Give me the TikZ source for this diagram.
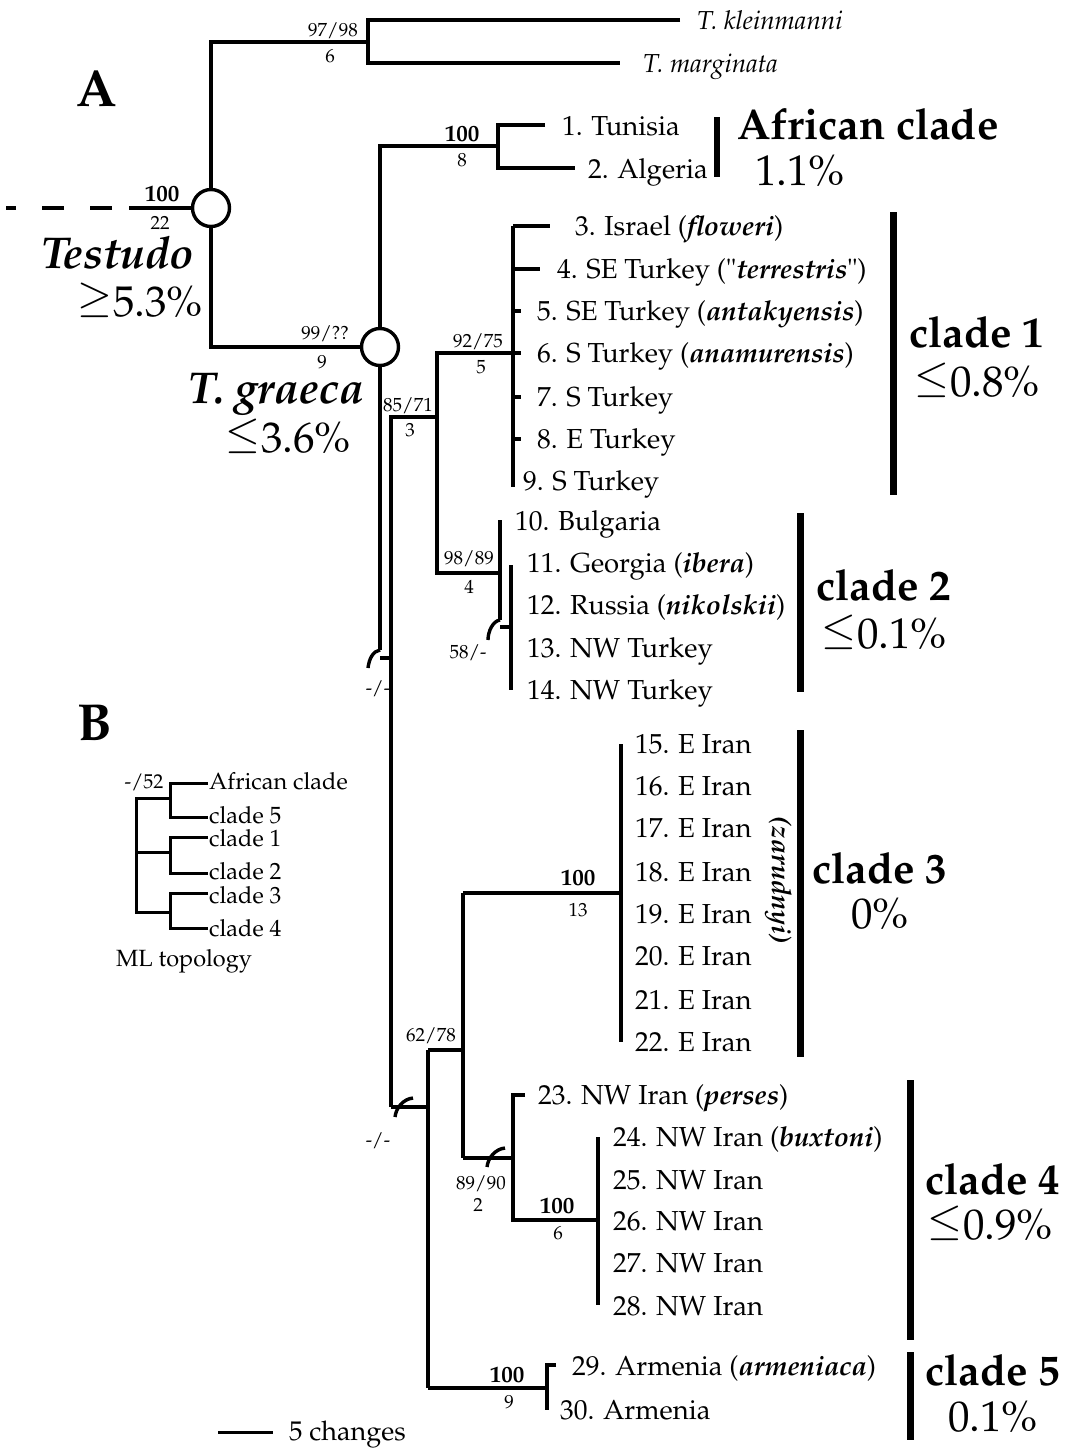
\documentclass[tikz,border=0pt]{standalone}
\usepackage[T1]{fontenc}
\usepackage{mathpazo}
\newcommand\myle{\raisebox{0.1em}{$\leq$}}
\newcommand\myge{\raisebox{0.1em}{$\geq$}}
\begin{document}
\begin{tikzpicture}[x=1pt,y=-1pt,
  br/.style={line width=3.4pt},
  bar/.style={line width=7pt},
  ib/.style={line width=3pt},
  circ/.style={circle,draw,line width=3.4pt,minimum size=37pt,inner sep=0pt,fill=white},
  leaf/.style={anchor=west,inner sep=0pt,font=\fontsize{27.5}{31}\selectfont,text height=19pt,text depth=0pt},
  sup/.style={inner sep=0pt,font=\fontsize{19}{22}\selectfont,text height=13pt,text depth=0pt},
  bsup/.style={inner sep=0pt,font=\fontsize{23}{26}\selectfont\bfseries,text height=16pt,text depth=0pt},
  cl/.style={inner sep=0pt,font=\fontsize{43}{48}\selectfont\bfseries,text height=31pt,text depth=0pt},
  pc/.style={inner sep=0pt,font=\fontsize{43}{48}\selectfont,text height=30pt,text depth=0pt},
  ins/.style={anchor=west,inner sep=0pt,font=\fontsize{23.5}{27}\selectfont,text height=16pt,text depth=0pt}]
\useasboundingbox (0,0) rectangle (1074,1449);
\def\bi#1{\textbf{\textit{#1}}}
% ---------- root and outgroups ----------
\node[circ] (rc) at (211,208) {};
\coordinate (rd1) at (112,208); \coordinate (rd0) at (6,208);
\coordinate (rs) at (129,208);
\draw[br,dash pattern=on 22pt off 26pt] (rd1) -- (rd0);
\draw[br] (rs) -- (rc);
\coordinate (o) at (368,42);
\coordinate (ot) at (368,20); \coordinate (ob) at (368,63);
\coordinate (ok) at (680,20); \coordinate (om) at (620,63);
\draw[br] (rc) |- (o);
\draw[br] (ok) -- (ot) -- (ob) -- (om);
\node[leaf,font=\fontsize{26}{30}\selectfont\itshape] (lk) at (697,20) {T. kleinmanni};
\node[leaf,font=\fontsize{26}{30}\selectfont\itshape] (lm) at (643,63) {T. marginata};
% ---------- T. graeca ----------
\node[circ] (gc) at (380,347) {};
\draw[br] (rc) |- (gc);
% African clade
\coordinate (af) at (498,146);
\coordinate (aft) at (498,125); \coordinate (afb) at (498,168);
\coordinate (a1) at (545,125); \coordinate (a2) at (575,168);
\draw[br] (gc) |- (af);
\draw[br] (a1) -- (aft) -- (afb) -- (a2);
% unsupported node -/- (upper)
\coordinate (h1) at (380,650); \coordinate (h1e) at (368,668);
\coordinate (h1a) at (380,658); \coordinate (h1b) at (391,658);
\draw[br] (gc) -- (h1);
\draw[br] (h1) .. controls (373,651) and (369,659) .. (h1e);
\draw[br] (h1a) -- (h1b);
% stem 85/71
\coordinate (n85) at (391,417); \coordinate (n85b) at (391,1107);
\coordinate (c12) at (437,417);
\coordinate (c12t) at (437,353); \coordinate (c12b) at (437,573);
\coordinate (c1n) at (513,353); \coordinate (c2n) at (500,573);
\draw[br] (n85b) -- (n85) -- (c12);
\draw[br] (c1n) -- (c12t) -- (c12b) -- (c2n);
% clade 1
\coordinate (c1t) at (513,226); \coordinate (c1b) at (513,487);
\draw[br] (c1t) -- (c1b);
\foreach \y/\e in {226/550,269/540,311/521,353/521,397/521,439/521}{
  \draw[br] (513,\y) -- (\e,\y);}
% clade 2
\coordinate (c2t) at (500,520); \coordinate (c2b) at (500,620);
\coordinate (h2e) at (488,640);
\coordinate (h2a) at (500,627); \coordinate (h2b) at (511,627);
\coordinate (c2it) at (511,565); \coordinate (c2ib) at (511,690);
\draw[br] (c2t) -- (c2b);
\draw[br] (c2b) .. controls (493,621) and (488,631) .. (h2e);
\draw[br] (h2a) -- (h2b);
\draw[br] (c2it) -- (c2ib);
% lower unsupported node -/-
\coordinate (n62) at (428,1107);
\coordinate (h3s) at (413,1098); \coordinate (h3e) at (395,1117);
\draw[br] (n85b) -- (n62);
\draw[br] (h3s) .. controls (403,1099) and (396,1108) .. (h3e);
% 62/78
\coordinate (n62t) at (428,1050); \coordinate (n62b) at (428,1388);
\coordinate (n34) at (463,1050);
\coordinate (n34t) at (463,893); \coordinate (n34b) at (463,1158);
\draw[br] (n62t) -- (n62b);
\draw[br] (n62t) -- (n34);
\draw[br] (n34t) -- (n34b);
% clade 3
\coordinate (c3n) at (621,893);
\coordinate (c3t) at (621,744); \coordinate (c3b) at (621,1042);
\draw[br] (n34t) -- (c3n);
\draw[br] (c3t) -- (c3b);
% 89/90 -> clade 4
\coordinate (c4n) at (513,1158);
\coordinate (h4s) at (505,1148); \coordinate (h4e) at (487,1167);
\draw[br] (n34b) -- (c4n);
\draw[br] (h4s) .. controls (495,1149) and (488,1158) .. (h4e);
\coordinate (c4t) at (513,1095); \coordinate (c4b) at (513,1220);
\coordinate (c4tk) at (525,1095);
\coordinate (c4in) at (598,1220);
\coordinate (c4it) at (598,1137); \coordinate (c4ib) at (598,1305);
\draw[br] (c4tk) -- (c4t) -- (c4b) -- (c4in);
\draw[br] (c4it) -- (c4ib);
% clade 5
\coordinate (c5n) at (547,1388);
\coordinate (c5t) at (547,1365); \coordinate (c5b) at (547,1410);
\coordinate (c5tk) at (556,1365);
\draw[br] (n62b) -- (c5n);
\draw[br] (c5tk) -- (c5t) -- (c5b);
% ---------- leaf labels ----------
\node[leaf] (l1) at (562,126) {1. Tunisia};
\node[leaf] (l2) at (588,169) {2. Algeria};
\node[leaf] (l3) at (575,226) {3. Israel (\bi{floweri})};
\node[leaf] (l4) at (557,269) {4. SE Turkey ("\bi{terrestris}")};
\node[leaf] (l5) at (537,311) {5. SE Turkey (\bi{antakyensis})};
\node[leaf] (l6) at (537,353) {6. S Turkey (\bi{anamurensis})};
\node[leaf] (l7) at (537,397) {7. S Turkey};
\node[leaf] (l8) at (537,439) {8. E Turkey};
\node[leaf] (l9) at (523,481) {9. S Turkey};
\node[leaf] (l10) at (515,521) {10. Bulgaria};
\node[leaf] (l11) at (527,563) {11. Georgia (\bi{ibera})};
\node[leaf] (l12) at (527,605) {12. Russia (\bi{nikolskii})};
\node[leaf] (l13) at (527,648) {13. NW Turkey};
\node[leaf] (l14) at (527,690) {14. NW Turkey};
\foreach \n/\y in {15/744,16/786,17/828,18/872,19/914,20/956,21/1000,22/1042}{
  \node[leaf] (l\n) at (635,\y) {\n. E Iran};}
\node[leaf] (l23) at (538,1095) {23. NW Iran (\bi{perses})};
\node[leaf] (l24) at (613,1137) {24. NW Iran (\bi{buxtoni})};
\foreach \n/\y in {25/1180,26/1221,27/1263,28/1306}{
  \node[leaf] (l\n) at (613,\y) {\n. NW Iran};}
\node[leaf] (l29) at (572,1366) {29. Armenia (\bi{armeniaca})};
\node[leaf] (l30) at (560,1410) {30. Armenia};
\node[rotate=-90,inner sep=0pt,font=\fontsize{27}{30}\selectfont\bfseries\itshape] (zar) at (778,880) {(zarudnyi)};
% ---------- support values ----------
\node[sup] (s1) at (333,30) {97/98}; \node[sup] (s1b) at (330,56) {6};
\node[bsup] (s2) at (162,193) {100}; \node[sup] (s2b) at (160,223) {22};
\node[sup] (s3) at (325,333) {99/??}; \node[sup] (s3b) at (322,362) {9};
\node[bsup] (s4) at (462,133) {100}; \node[sup] (s4b) at (462,160) {8};
\node[sup] (s5) at (478,341) {92/75}; \node[sup] (s5b) at (481,367) {5};
\node[sup] (s6) at (408,405) {85/71}; \node[sup] (s6b) at (410,430) {3};
\node[sup] (s7) at (469,558) {98/89}; \node[sup] (s7b) at (469,587) {4};
\node[sup] (s8) at (468,652) {58/-};
\node[sup] (s9) at (378,688) {-/-};
\node[bsup] (s10) at (578,877) {100}; \node[sup] (s10b) at (578,910) {13};
\node[sup] (s11) at (431,1035) {62/78};
\node[sup] (s12) at (378,1140) {-/-};
\node[sup] (s13) at (481,1183) {89/90}; \node[sup] (s13b) at (478,1205) {2};
\node[bsup] (s14) at (557,1205) {100}; \node[sup] (s14b) at (558,1233) {6};
\node[bsup] (s15) at (507,1374) {100}; \node[sup] (s15b) at (509,1402) {9};
% ---------- clade bars and names ----------
\coordinate (b0t) at (717,117); \coordinate (b0b) at (717,177);
\draw[line width=6pt] (b0t) -- (b0b);
\node[cl] (caf) at (868,124) {African clade};
\node[pc] (paf) at (800,170) {1.1\%};
\coordinate (b1t) at (893,212); \coordinate (b1b) at (893,495);
\draw[bar] (b1t) -- (b1b);
\node[cl] (cc1) at (977,332) {clade 1};
\node[pc] (pc1) at (977,381) {\myle0.8\%};
\coordinate (b2t) at (800,513); \coordinate (b2b) at (800,692);
\draw[bar] (b2t) -- (b2b);
\node[cl] (cc2) at (884,585) {clade 2};
\node[pc] (pc2) at (884,633) {\myle0.1\%};
\coordinate (b3t) at (800,730); \coordinate (b3b) at (800,1057);
\draw[bar] (b3t) -- (b3b);
\node[cl] (cc3) at (880,868) {clade 3};
\node[pc] (pc3) at (880,913) {0\%};
\coordinate (b4t) at (910,1080); \coordinate (b4b) at (910,1340);
\draw[bar] (b4t) -- (b4b);
\node[cl] (cc4) at (993,1179) {clade 4};
\node[pc] (pc4) at (990,1224) {\myle0.9\%};
\coordinate (b5t) at (910,1352); \coordinate (b5b) at (910,1440);
\draw[bar] (b5t) -- (b5b);
\node[cl] (cc5) at (993,1370) {clade 5};
\node[pc] (pc5) at (993,1416) {0.1\%};
% group names
\node[cl,font=\fontsize{44.5}{50}\selectfont\bfseries\itshape] (tes) at (118,253) {Testudo};
\node[pc] (tesp) at (140,301) {\myge5.3\%};
\node[cl,font=\fontsize{44.5}{50}\selectfont\bfseries\itshape] (tgr) at (276,388) {T. graeca};
\node[pc] (tgrp) at (288,437) {\myle3.6\%};
\node[cl,font=\fontsize{52}{58}\selectfont\bfseries,text height=37pt] (pa) at (97,88) {A};
\node[cl,font=\fontsize{52}{58}\selectfont\bfseries,text height=37pt] (pb) at (95,722) {B};
% ---------- inset B ----------
\coordinate (i1) at (170,798); \coordinate (i1t) at (170,783); \coordinate (i1b) at (170,817);
\coordinate (i2) at (170,852); \coordinate (i2t) at (170,837); \coordinate (i2b) at (170,873);
\coordinate (i3) at (170,912); \coordinate (i3t) at (170,893); \coordinate (i3b) at (170,928);
\coordinate (ir1) at (136,798); \coordinate (ir2) at (136,852); \coordinate (ir3) at (136,912);
\draw[ib] (i1) -- (ir1) -- (ir3) -- (i3);
\draw[ib] (ir2) -- (i2);
\foreach \k in {1,2,3}{
  \draw[ib] (208,0|-i\k t) -- (i\k t) -- (i\k b) -- (208,0|-i\k b);}
\node[ins] (ia) at (209,781) {African clade};
\node[ins] (i5) at (209,815) {clade 5};
\node[ins] (ic1) at (209,838) {clade 1};
\node[ins] (ic2) at (209,871) {clade 2};
\node[ins] (ic3) at (209,895) {clade 3};
\node[ins] (ic4) at (209,928) {clade 4};
\node[sup,font=\fontsize{20}{24}\selectfont] (i52) at (144,782) {-/52};
\node[ins] (iml) at (116,958) {ML topology};
% ---------- scale bar ----------
\coordinate (sc0) at (218,1432); \coordinate (sc1) at (273,1432);
\draw[line width=3pt] (sc0) -- (sc1);
\node[ins,font=\fontsize{27}{31}\selectfont] (scl) at (289,1432) {5 changes};
\end{tikzpicture}
\end{document}
